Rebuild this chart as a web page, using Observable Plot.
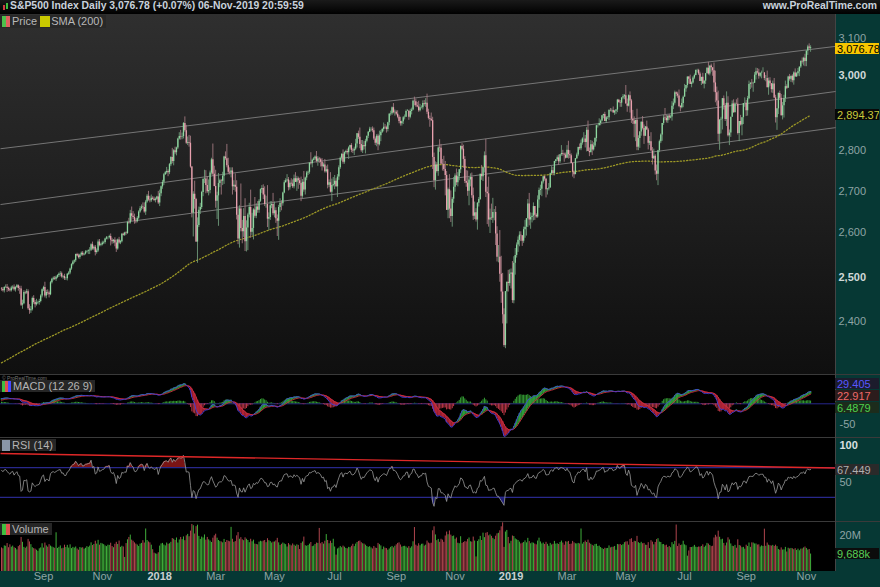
<!DOCTYPE html>
<html><head><meta charset="utf-8">
<script src="https://cdn.jsdelivr.net/npm/d3@7"></script>
<script src="https://cdn.jsdelivr.net/npm/@observablehq/plot@0.6"></script>
<style>
body{margin:0;background:#000;}
#wrap{position:relative;width:880px;height:587px;background:#063834;overflow:hidden;font-family:"Liberation Sans",Arial,sans-serif;}
</style></head>
<body><div id="wrap"></div>
<script>
// ---------- DATA ----------
// 199 closes before the first visible day (warm-up for SMA 200, MACD, RSI)
const priorCloses = [
2160,2161,2154,2164,2137,2139,2133,2133,2127,2140,2144,2141,2141,2151,2143,2139,2133,2126,2126,
2112,2098,2089,2085,2132,2140,2163,2168,2165,2164,2180,2177,2187,2182,2198,2203,2205,2213,2202,2205,2199,
2191,2192,2205,2212,2241,2246,2260,2257,2272,2253,2262,2258,2263,2271,2265,2261,2264,2269,2250,2249,2239,
2258,2271,2269,2277,2269,2269,2275,2270,2275,2268,2272,2264,2271,2265,2280,2298,2297,2295,2281,2279,
2280,2281,2297,2293,2293,2295,2308,2316,2328,2338,2349,2347,2351,2365,2363,2364,2367,2370,2364,
2396,2382,2383,2375,2368,2363,2365,2373,2374,2365,2385,2381,2378,2374,2344,2349,2346,2344,2342,2359,2361,2368,2363,
2359,2360,2353,2358,2356,2357,2354,2345,2329,2349,2342,2338,2356,2349,2374,2389,2388,2389,2384,
2388,2391,2388,2390,2399,2399,2397,2400,2394,2391,2402,2401,2357,2366,2382,2394,2398,2404,2415,2416,2413,2412,
2430,2439,2436,2429,2433,2434,2432,2429,2440,2438,2433,2433,2454,2437,2436,2435,2438,2439,2419,2441,2420,2423,
2429,2433,2410,2425,2427,2426,2443,2448,2459,2459,2461,2474,2474];

// visible daily closes, 21-Jul-2017 .. 06-Nov-2019
const closes = [
2473,2470,2477,2478,2475,2472,2470,
2476,2478,2472,2477,2481,2475,2474,2438,2441,2466,2465,2468,2430,2426,2428,2453,2444,2439,2443,2444,2446,2458,2472,
2477,2458,2466,2465,2461,2488,2496,2498,2496,2500,2504,2507,2508,2501,2502,2497,2497,2507,2510,2519,
2529,2535,2538,2552,2549,2545,2551,2555,2551,2553,2558,2559,2561,2562,2575,2565,2569,2557,2560,2581,2573,2575,
2579,2580,2588,2591,2591,2594,2585,2582,2585,2579,2565,2586,2579,2582,2599,2597,2602,2601,2627,2626,2648,
2642,2639,2630,2629,2637,2652,2660,2664,2663,2652,2676,2690,2681,2679,2685,2683,2680,2683,2688,2674,
2696,2713,2724,2743,2748,2751,2748,2768,2786,2776,2803,2798,2810,2833,2839,2838,2839,2873,2854,2822,2824,
2822,2762,2649,2695,2682,2581,2620,2656,2663,2699,2731,2732,2716,2701,2704,2747,2780,2744,2714,
2678,2691,2721,2728,2727,2739,2787,2783,2765,2749,2747,2752,2713,2717,2712,2644,2588,2659,2613,2605,2641,
2582,2614,2645,2663,2604,2613,2657,2642,2664,2656,2678,2706,2709,2693,2670,2670,2635,2639,2667,2670,2648,
2655,2636,2630,2663,2673,2672,2698,2723,2728,2730,2711,2722,2720,2713,2733,2724,2733,2728,2721,2690,2724,2705,
2735,2747,2749,2772,2770,2779,2782,2787,2776,2782,2780,2774,2763,2767,2750,2755,2717,2723,2700,2716,2718,
2727,2713,2737,2760,2784,2794,2774,2798,2801,2798,2810,2816,2804,2802,2807,2820,2846,2837,2819,2803,2816,
2813,2827,2840,2850,2858,2858,2854,2833,2822,2840,2818,2841,2850,2857,2863,2862,2857,2875,2897,2898,2914,2901,2902,
2897,2889,2878,2872,2877,2888,2889,2904,2905,2889,2904,2908,2931,2930,2919,2916,2906,2914,2914,
2925,2923,2926,2902,2886,2884,2880,2786,2728,2767,2751,2810,2809,2769,2768,2756,2741,2656,2706,2659,2641,2683,2712,
2740,2723,2738,2755,2814,2807,2781,2726,2722,2702,2730,2736,2691,2642,2650,2633,2673,2682,2744,2738,2760,
2790,2700,2696,2633,2638,2637,2651,2651,2600,2546,2546,2507,2467,2417,2351,2468,2489,2486,2507,
2510,2448,2532,2550,2574,2585,2597,2596,2583,2610,2616,2636,2671,2633,2639,2642,2665,2644,2640,2681,2704,
2707,2725,2738,2732,2706,2708,2710,2745,2753,2746,2776,2780,2785,2775,2793,2796,2794,2792,2784,
2804,2793,2790,2771,2749,2743,2783,2792,2811,2808,2822,2833,2833,2824,2855,2801,2798,2818,2805,2815,2834,
2867,2867,2873,2879,2893,2896,2878,2888,2888,2907,2906,2907,2900,2905,2908,2934,2927,2926,2940,2943,2946,
2924,2918,2946,2932,2884,2879,2871,2881,2812,2834,2851,2876,2860,2840,2864,2856,2822,2826,2802,2783,2789,2752,
2744,2803,2826,2843,2873,2887,2886,2880,2892,2887,2890,2918,2926,2954,2950,2945,2917,2914,2925,2942,
2964,2973,2996,2990,2976,2980,2993,3000,3014,3014,3004,2984,2995,2977,2985,3005,3020,3004,3026,3021,3013,2980,
2954,2932,2845,2882,2884,2938,2919,2883,2926,2841,2848,2889,2924,2901,2924,2923,2847,2878,2869,2888,2925,2926,
2906,2938,2976,2979,2978,2979,3001,3010,3007,2998,3006,3007,3007,2992,2992,2967,2985,2978,2962,2977,
2940,2888,2911,2952,2939,2893,2919,2938,2970,2966,2996,2990,2998,2986,3007,2996,3005,3010,3023,3039,3037,3047,3038,
3067,3078,3074.62,3076.78];

// upper shadow above the body, points
const wickUp = [
3,4,2,5,6,3,4,
4,3,5,2,3,2,5,6,8,4,3,5,4,9,7,3,6,4,8,3,5,3,2,
3,12,5,6,4,3,2,3,4,3,2,3,5,4,2,5,3,2,3,2,
2,3,2,1,3,4,2,3,4,2,3,2,2,6,2,6,3,4,5,5,6,3,
4,3,2,3,2,3,6,5,2,6,7,2,6,3,2,3,2,3,3,10,8,
16,11,8,6,4,3,5,5,10,11,4,4,12,9,8,4,5,3,2,14,
9,2,5,3,3,10,4,3,2,23,3,9,2,2,10,16,9,2,17,14,14,
18,18,1,6,32,3,18,8,10,3,2,22,21,22,26,5,4,40,20,
40,9,25,4,3,10,2,13,36,19,11,8,8,11,28,16,17,8,61,19,19,
43,17,4,10,42,36,3,30,8,13,4,2,7,9,20,20,46,11,10,7,27,
21,7,9,5,11,6,2,5,5,13,6,6,11,10,9,15,6,4,6,16,7,27,
2,4,3,0,26,3,4,3,14,6,4,4,9,5,14,9,12,7,25,16,18,
14,6,6,5,3,1,11,2,3,6,3,1,5,4,5,12,1,7,24,10,13,
10,5,0,2,5,4,6,7,5,4,5,12,5,3,11,7,4,1,2,7,2,11,6,
4,9,5,11,2,3,6,4,4,2,6,5,3,11,7,9,15,9,5,
7,8,12,24,8,6,16,9,11,8,6,3,21,10,12,21,20,10,4,37,44,4,24,
5,17,10,1,1,7,10,7,27,30,6,9,11,19,26,10,2,5,0,22,0,
10,42,12,41,21,33,34,7,14,17,27,62,41,42,13,0,0,27,10,
9,26,15,16,5,8,8,8,0,6,16,0,11,26,11,7,9,0,4,10,6,
10,2,0,2,0,0,11,2,10,8,0,0,5,7,0,20,8,3,5,
12,23,10,5,2,3,0,5,1,9,8,3,16,9,7,24,9,11,9,8,2,
1,2,12,3,0,1,6,3,3,2,5,4,9,2,1,2,2,6,0,6,3,
27,13,2,10,4,23,11,0,29,7,1,1,15,9,1,15,4,13,23,9,18,4,
15,1,4,3,0,7,25,8,0,4,4,12,11,4,2,5,16,3,12,3,
12,0,0,1,11,3,4,4,0,3,3,5,0,11,0,0,1,16,0,5,0,21,
32,15,26,0,5,0,7,6,30,17,8,0,8,11,3,11,16,0,16,0,0,14,
7,6,9,2,10,3,7,10,9,10,1,5,14,1,8,20,8,9,0,8,
15,7,0,1,6,10,9,9,15,5,2,7,0,4,3,11,3,9,0,0,9,3,11,
0,5,9,5];

// lower shadow below the body, points
const wickDown = [
4,3,5,2,9,4,3,
3,4,3,5,2,6,12,3,9,2,4,3,3,8,6,3,4,7,3,4,6,3,4,
4,4,6,5,7,2,3,4,3,5,3,4,6,3,5,4,4,5,3,4,
3,3,4,4,2,3,4,3,3,2,2,3,7,9,3,3,4,8,4,3,3,3,
3,4,4,2,5,3,13,6,5,9,8,3,3,4,3,2,3,4,2,3,3,
13,5,7,5,3,4,3,5,5,3,8,3,3,5,4,2,3,6,3,4,
9,7,6,8,2,4,10,5,5,6,11,5,8,4,3,8,7,6,4,3,6,
10,3,11,56,23,1,49,5,10,5,10,10,20,4,10,8,5,5,1,
17,44,73,10,34,11,20,4,5,5,5,12,20,9,12,11,13,21,8,28,13,
23,24,53,7,14,8,27,5,6,7,7,3,9,11,5,9,20,27,7,7,5,
10,11,36,45,12,17,6,2,1,3,8,6,6,4,5,0,22,21,4,13,5,5,
12,7,6,5,3,10,2,4,4,12,9,12,11,3,3,3,9,6,2,23,3,
12,1,26,8,4,7,5,5,4,6,17,5,6,6,11,4,10,5,11,4,7,
8,18,4,6,1,6,5,4,6,9,15,3,15,3,6,4,9,6,8,5,4,3,9,
4,4,6,6,6,7,6,0,0,8,4,9,2,11,4,2,4,3,3,
6,5,8,6,4,21,2,30,17,23,4,12,10,0,16,5,50,0,20,23,14,25,10,
12,7,10,10,9,4,22,5,10,12,35,17,6,10,8,5,24,9,2,9,12,
13,13,74,17,32,5,12,20,27,11,13,18,25,20,4,7,71,19,6,
33,6,7,27,6,17,15,14,12,5,20,21,21,14,22,13,11,12,3,3,20,
12,18,5,5,20,13,5,0,2,6,6,5,4,9,4,4,5,18,2,
0,11,7,1,12,10,0,2,4,4,5,5,9,14,24,0,10,0,14,3,4,
9,6,0,6,2,8,0,5,5,8,3,4,0,6,9,7,0,11,11,5,8,
0,16,2,32,11,9,35,45,9,9,25,11,4,21,1,1,17,6,0,16,2,10,
16,28,5,5,16,5,6,6,7,6,2,11,9,5,7,6,3,11,3,11,
0,9,7,13,0,9,3,4,1,7,4,0,11,0,13,9,0,3,5,12,15,25,
27,14,20,41,36,28,11,5,18,3,25,11,0,2,0,0,4,21,3,28,18,10,
15,14,3,14,12,23,0,13,3,8,4,15,0,6,9,0,20,7,9,10,
2,14,33,15,6,1,11,32,10,4,0,5,9,6,12,0,1,7,13,4,6,11,14,
14,12,6,11];

// volume, millions
const volume = [
13.1,12.6,14.2,14.0,15.5,13.2,14.8,
13.5,14.1,13.2,12.8,12.0,13.8,14.5,18.9,16.2,13.4,12.9,13.6,17.8,16.4,14.9,13.2,12.7,12.4,11.8,11.2,12.6,13.1,15.4,
13.0,15.8,14.2,13.5,14.9,14.1,13.6,13.2,12.9,21.5,12.8,13.4,14.2,12.6,12.9,14.6,13.3,14.5,13.0,14.8,
12.7,13.4,13.0,13.6,12.5,11.8,13.3,13.0,13.2,12.4,12.9,13.8,13.4,14.1,15.9,14.4,15.0,16.8,15.2,17.3,14.6,15.6,
15.3,14.9,14.2,13.8,14.6,14.5,15.7,13.9,13.2,15.1,16.2,15.0,16.9,13.4,14.0,13.6,7.8,15.5,17.6,18.9,20.2,
17.4,16.8,15.9,15.2,14.7,13.9,15.2,15.6,17.1,15.8,23.6,17.2,16.4,15.9,14.6,12.1,10.2,9.8,9.6,10.4,
14.1,15.3,15.6,14.7,14.2,15.8,15.1,15.4,16.2,18.3,17.9,17.2,18.6,15.8,17.5,18.9,17.7,19.2,17.1,19.8,20.6,
19.3,22.4,26.1,25.4,20.8,24.9,25.7,19.5,17.8,19.1,18.6,20.3,17.4,18.9,17.6,16.9,16.1,18.5,19.8,
20.7,18.5,17.2,16.6,16.4,15.9,17.8,16.1,17.2,16.8,16.5,24.5,17.9,16.2,16.6,19.8,21.6,17.9,18.8,17.6,17.1,
18.7,17.9,17.2,16.0,17.9,16.5,17.4,15.2,15.0,14.8,16.3,16.8,16.5,16.9,17.2,16.0,18.2,17.1,16.6,15.8,16.3,
16.4,17.0,18.4,15.9,14.5,15.1,15.8,15.3,14.9,13.6,15.5,14.7,14.2,15.3,14.6,14.0,14.8,14.5,12.2,15.6,16.4,19.1,
14.3,14.0,14.4,15.2,16.1,13.8,14.1,15.0,15.8,15.6,23.9,15.4,16.1,15.2,16.8,20.5,17.2,15.4,16.8,15.6,17.9,
13.6,9.1,12.5,13.0,13.9,13.2,14.1,13.5,12.8,12.6,13.4,13.2,14.0,15.1,13.8,15.2,16.1,16.7,16.9,16.0,15.4,
15.2,14.6,13.9,13.4,13.8,13.1,12.5,13.9,13.0,12.8,15.6,14.9,14.2,12.1,13.6,12.9,12.7,11.8,12.5,13.4,13.9,13.1,14.0,
14.8,15.6,15.9,14.7,13.5,13.9,14.0,13.6,12.9,13.8,12.9,13.7,16.5,24.4,14.6,14.0,15.4,14.3,15.1,
15.2,14.1,14.6,16.9,15.8,15.4,15.7,22.6,24.8,20.3,17.1,17.8,16.2,17.9,17.4,16.2,19.7,21.9,20.4,22.5,20.2,19.4,19.7,
17.9,18.6,15.7,15.4,19.3,15.6,16.1,16.6,16.4,17.8,18.6,16.5,16.3,19.1,16.9,8.1,16.7,17.6,19.5,17.2,21.3,
18.8,21.2,21.6,19.8,20.3,19.5,18.4,17.7,19.6,20.9,21.2,22.6,24.8,27.0,13.4,21.9,22.8,18.9,15.4,
16.8,19.7,19.4,18.1,17.6,17.2,16.3,15.3,15.7,16.1,17.0,15.9,18.4,16.6,15.4,15.9,15.7,15.2,14.8,16.9,18.5,
16.4,15.3,15.8,15.0,16.2,15.1,14.0,15.6,14.7,15.1,16.7,15.2,15.4,15.0,16.1,16.9,15.8,14.6,16.5,
16.3,16.7,15.0,15.2,16.7,15.9,15.4,15.3,15.6,15.3,23.6,15.2,16.1,16.9,16.1,17.4,15.7,15.1,14.5,14.1,15.0,
15.1,13.9,14.1,13.3,12.7,12.2,12.9,12.7,12.8,14.2,13.1,13.4,13.5,13.9,11.8,15.0,14.8,15.0,14.4,14.9,16.0,
16.4,16.5,14.6,17.8,18.2,16.1,16.8,16.6,19.5,16.0,15.5,16.2,15.4,15.6,14.6,14.5,16.0,12.7,17.1,16.3,14.8,16.1,
17.7,18.2,16.3,16.1,14.9,15.0,14.3,14.6,13.3,13.9,13.2,16.0,14.9,16.7,25.8,13.9,15.3,14.4,14.7,16.8,
14.8,14.3,8.5,11.4,13.3,13.3,13.6,14.5,13.5,13.3,13.6,13.5,13.9,14.8,13.4,14.1,15.6,15.2,14.4,13.8,14.0,18.6,
20.1,19.1,22.4,19.0,17.6,17.9,15.6,14.2,15.8,18.7,17.5,15.3,14.0,13.8,14.5,12.9,17.6,14.4,14.1,13.2,13.4,12.4,
14.6,13.9,15.8,13.4,15.9,15.8,15.3,15.3,14.7,14.8,13.6,14.2,13.9,23.5,14.0,15.8,14.6,14.3,14.1,14.5,
13.9,14.6,13.8,12.2,11.8,13.1,11.9,12.0,13.4,10.8,12.9,12.5,12.8,12.6,12.1,12.7,11.7,12.4,11.5,12.4,12.5,13.1,13.6,
12.8,11.9,12.2,9.688];

const tickIndex  = [30,72,113,153,195,238,282,324,364,404,446,488,532,575];
const tickLabels = ["Sep","Nov","2018","Mar","May","Jul","Sep","Nov","2019","Mar","May","Jul","Sep","Nov"];
const priceTicks = [2400,2500,2600,2700,2800,3000,3100];
const priceTicksBold = [2500,3000];
const channelLeft  = [2808, 2670, 2589];   // trend channel, price at left edge
const channelRight = [3080, 2957, 2862];   // trend channel, price at right edge
const rsiTrend = [89.2, 69.6];
const macdLast = [29.405, 22.917, 6.4879]; // MACD, signal, histogram
const rsiLast = 67.449;
const smaLast = 2894.37;
const volLast = 9688; // k
const titleName = "S&P500 Index Daily";
const titleStamp = "06-Nov-2019 20:59:59";

// ---------- DERIVED ----------
const P = priorCloses.length;
const all = priorCloses.concat(closes);
const N = closes.length;
const rows = closes.map((c,i)=>{
  const o = all[P+i-1];
  const up = c >= o;
  return {i, o, c, up, h: Math.max(o,c)+(wickUp[i]||0), l: Math.min(o,c)-(wickDown[i]||0), v: volume[i]};
});
const sma = rows.map(r=>{ const k=P+r.i; return {i:r.i, s: d3.mean(all.slice(k-199,k+1))}; });
function ema(a,n){const al=2/(n+1);const out=[];let e=a[0];a.forEach((v,k)=>{e=k?al*v+(1-al)*e:v;out.push(e);});return out;}
const e12=ema(all,12), e26=ema(all,26);
const macdAll = all.map((v,k)=>e12[k]-e26[k]);
const sigAll = ema(macdAll,9);
const mrows = rows.map(r=>{const k=P+r.i;return {i:r.i,m:macdAll[k],s:sigAll[k],h:macdAll[k]-sigAll[k]};});
const rsiAll=[];{let ag=0,al=0;for(let k=1;k<all.length;k++){const d=all[k]-all[k-1];const g=Math.max(d,0),l=Math.max(-d,0);
 if(k<=14){ag+=g/14;al+=l/14;}else{ag=(ag*13+g)/14;al=(al*13+l)/14;} rsiAll[k]=al===0?100:100-100/(1+ag/al);}}
const rrows = rows.map(r=>({i:r.i,r:rsiAll[P+r.i]}));

// ---------- LAYOUT ----------
const W=880, MR=45;
const xDomain=[-0.714, 595.8];
const wrap=document.getElementById("wrap");
const font='"Liberation Sans",Arial,sans-serif';
function add(el,top){el.style.position="absolute";el.style.left="0px";el.style.top=top+"px";wrap.appendChild(el);return el;}
function div(css,html){const d=document.createElement("div");d.style.cssText=css;if(html!=null)d.innerHTML=html;wrap.appendChild(d);return d;}
function box(top,bg,fg,text){return div(`position:absolute;left:835px;top:${top}px;width:44px;height:11px;line-height:11px;background:${bg};color:${fg};font:11px ${font};padding-left:2px;box-sizing:border-box;overflow:hidden;`,text);}

// backgrounds
div("position:absolute;left:0;top:0;width:880px;height:14px;background:linear-gradient(#1a1a1a,#000);");
div("position:absolute;left:0;top:14px;width:835px;height:360px;background:linear-gradient(#2f2f2f,#0f0f0f);");
div("position:absolute;left:0;top:375px;width:835px;height:196px;background:#000;");
[374,437,521].forEach(y=>div(`position:absolute;left:0;top:${y}px;width:880px;height:1px;background:#3a3a3a;`));
div("position:absolute;left:835px;top:14px;width:1px;height:557px;background:#444;");

// header
const chg = (closes[N-1]/closes[N-2]-1)*100;
const fmt2 = d3.format(",.2f");
div("position:absolute;left:3px;top:5px;width:2px;height:5px;background:#d04040;");
div("position:absolute;left:6px;top:3px;width:2px;height:6px;background:#40c040;");
div(`position:absolute;left:10px;top:0;height:14px;line-height:14px;font:bold 10.4px ${font};color:#c9d2dc;white-space:nowrap;`,
  `${titleName} ${fmt2(closes[N-1])} (${chg>=0?"+":""}${chg.toFixed(2)}%) ${titleStamp}`);
div(`position:absolute;right:3px;top:0;height:14px;line-height:14px;font:bold 10.4px ${font};color:#c9d2dc;`,"www.ProRealTime.com");

const base = {width:W, marginLeft:0, marginRight:MR, marginTop:0, marginBottom:0,
  style:{background:"transparent", overflow:"visible", fontFamily:font, fontSize:"11px"},
  x:{domain:xDomain, axis:null}};

// ---------- PRICE PANEL ----------
const chan = channelLeft.map((a,k)=>({a, b:channelRight[k]}));
const price = Plot.plot({...base, height:360,
  y:{type:"log", domain:[2290,3170], axis:null},
  marks:[
    Plot.link(chan,{x1:xDomain[0],x2:xDomain[1],y1:"a",y2:"b",stroke:"#8a8a8a",strokeWidth:0.8}),
    Plot.line(sma,{x:"i",y:"s",stroke:"#9c9826",strokeWidth:1.3,strokeDasharray:"1.2,2"}),
    Plot.ruleX(rows,{x:"i",y1:"l",y2:"h",stroke:d=>d.up?"#6f9a7a":"#a07880",strokeWidth:0.9}),
    Plot.ruleX(rows,{x:"i",y1:"o",y2:"c",stroke:d=>d.up?"#8ed8a0":"#e8a0ae",strokeWidth:1.3}),
    Plot.text(priceTicks.filter(t=>!priceTicksBold.includes(t)),{y:d=>d,text:d=>d3.format(",")(d),frameAnchor:"right",textAnchor:"start",dx:3,dy:-1,fill:"#8ea4a4",fontSize:11}),
    Plot.text(priceTicksBold,{y:d=>d,text:d=>d3.format(",")(d),frameAnchor:"right",textAnchor:"start",dx:3,fill:"#d0d8d8",fontWeight:"bold",fontSize:11})
  ]});
add(price,14);
const py=v=>14+price.scale("y").apply(v);
box(py(closes[N-1])-4.5,"#f7c600","#000",fmt2(closes[N-1]));
box(py(smaLast)-5.5,"#080808","#c8c83a",fmt2(smaLast));

// legend
div(`position:absolute;left:0;top:15px;height:13px;line-height:13px;font:11px ${font};color:#b8b8b8;background:#282828;padding-right:3px;white-space:nowrap;`,
 `<span style="display:inline-block;width:4px;height:11px;background:#4cc04c;vertical-align:-2px;margin-left:2px"></span><span style="display:inline-block;width:4px;height:11px;background:#e06060;vertical-align:-2px;margin-right:2px"></span>Price <span style="display:inline-block;width:10px;height:11px;background:#c8c800;vertical-align:-2px;margin-right:1px"></span>SMA (200)`);

// ---------- MACD PANEL ----------
const macdPlot = Plot.plot({...base, height:62,
  y:{domain:[-80.2,67.4], axis:null},
  marks:[
    Plot.ruleY([0],{stroke:"#26268c",strokeWidth:1}),
    Plot.ruleX(mrows,{x:"i",y1:0,y2:"h",stroke:d=>d.h>=0?"#35a035":"#c03848",strokeWidth:1}),
    Plot.ruleX(mrows,{x:"i",y1:"s",y2:"m",stroke:d=>d.m>=d.s?"#2f9a3a":"#b02436",strokeWidth:1.6}),
    Plot.line(mrows,{x:"i",y:"s",stroke:"#d03040",strokeWidth:0.9}),
    Plot.line(mrows,{x:"i",y:"m",stroke:"#4040e0",strokeWidth:0.9}),
    Plot.text([-50],{y:d=>d,text:d=>String(d),frameAnchor:"right",textAnchor:"start",dx:4,fill:"#8ea4a4",fontSize:11})
  ]});
add(macdPlot,375);
const my=v=>375+macdPlot.scale("y").apply(v);
{ // stacked value labels
  const cols=[["#5858ff","#1c1c2c"],["#f06a6a","#2c1c1c"],["#4cd04c","#1c2c1c"]];
  let ys=macdLast.map(my); const order=[0,1,2].sort((a,b)=>ys[a]-ys[b]);
  let pos=order.map(k=>ys[k]); for(let j=1;j<pos.length;j++) if(pos[j]-pos[j-1]<12) pos[j]=pos[j-1]+12;
  const shift=d3.mean(order.map(k=>ys[k]))-d3.mean(pos); pos=pos.map(p=>p+shift);
  order.forEach((k,j)=>box(pos[j]-5.5,cols[k][1],cols[k][0],k===2?macdLast[k].toFixed(4):macdLast[k].toFixed(3)));
}
div(`position:absolute;left:2px;top:375px;font:5px ${font};color:#777;`,"© ProRealTime.com");
div(`position:absolute;left:0;top:380px;height:12px;line-height:12px;font:11px ${font};color:#b4b4b4;background:#262626;padding-right:3px;white-space:nowrap;`,
 `<span style="display:inline-block;width:3px;height:11px;background:#40c040;vertical-align:-2px;margin-left:2px"></span><span style="display:inline-block;width:3px;height:11px;background:#e05050;vertical-align:-2px"></span><span style="display:inline-block;width:3px;height:11px;background:#4848ff;vertical-align:-2px;margin-right:2px"></span>MACD (12 26 9)`);

// ---------- RSI PANEL ----------
const rsiPlot = Plot.plot({...base, height:83,
  y:{domain:[-2.7,109.5], axis:null},
  marks:[
    Plot.areaY(rrows,{x:"i",y1:70,y2:d=>Math.max(70,d.r),fill:"#7a1414"}),
    Plot.areaY(rrows,{x:"i",y1:d=>Math.min(30,d.r),y2:30,fill:"#1e1e7a"}),
    Plot.ruleY([70,30],{stroke:"#28288c",strokeWidth:1.2}),
    Plot.line(rrows,{x:"i",y:"r",stroke:"#9a9a9a",strokeWidth:0.8}),
    Plot.link([0],{x1:xDomain[0],x2:xDomain[1],y1:rsiTrend[0],y2:rsiTrend[1],stroke:"#e02828",strokeWidth:1.4}),
    Plot.text([100],{y:d=>d,text:d=>String(d),frameAnchor:"right",textAnchor:"start",dx:4,fill:"#d8e0e0",fontWeight:"bold",fontSize:11}),
    Plot.text([50],{y:d=>d,text:d=>String(d),frameAnchor:"right",textAnchor:"start",dx:4,fill:"#8ea4a4",fontSize:11})
  ]});
add(rsiPlot,438);
const ry=v=>438+rsiPlot.scale("y").apply(v);
box(ry(rsiLast)-5.5,"#2a2a2a","#b0b0b0",rsiLast.toFixed(3));
div(`position:absolute;left:0;top:439px;height:12px;line-height:12px;font:11px ${font};color:#b4b4b4;background:#262626;padding-right:3px;white-space:nowrap;`,
 `<span style="display:inline-block;width:8px;height:11px;background:#8a96a8;vertical-align:-2px;margin:0 2px"></span>RSI (14)`);

// ---------- VOLUME PANEL + X AXIS ----------
const ticks = tickIndex.map((t,k)=>({t,label:tickLabels[k],year:/^\d{4}$/.test(tickLabels[k])}));
const volPlot = Plot.plot({...base, height:65, marginBottom:16,
  y:{domain:[0,27.2], axis:null},
  marks:[
    Plot.ruleX(rows,{x:"i",y1:0,y2:"v",stroke:d=>d.up?"#3fae3a":"#b0454e",strokeWidth:1}),
    Plot.text([20],{y:d=>d,text:d=>d+"M",frameAnchor:"right",textAnchor:"start",dx:4,fill:"#8ea4a4",fontSize:11}),
    Plot.text(ticks.filter(d=>!d.year),{x:"t",text:"label",frameAnchor:"bottom",dy:8,fill:"#8ea4a4",fontSize:11}),
    Plot.text(ticks.filter(d=>d.year),{x:"t",text:"label",frameAnchor:"bottom",dy:8,fill:"#c8d0d0",fontWeight:"bold",fontSize:11})
  ]});
add(volPlot,522);
const vy=v=>522+volPlot.scale("y").apply(v);
box(vy(volLast/1000)-5.5,"#0c0c0c","#58d058",d3.format(",")(volLast)+"k");
div(`position:absolute;left:0;top:523px;height:12px;line-height:12px;font:11px ${font};color:#b4b4b4;background:#262626;padding-right:3px;white-space:nowrap;`,
 `<span style="display:inline-block;width:4px;height:11px;background:#40c040;vertical-align:-2px;margin-left:2px"></span><span style="display:inline-block;width:4px;height:11px;background:#e05050;vertical-align:-2px;margin-right:2px"></span>Volume`);
</script></body></html>
